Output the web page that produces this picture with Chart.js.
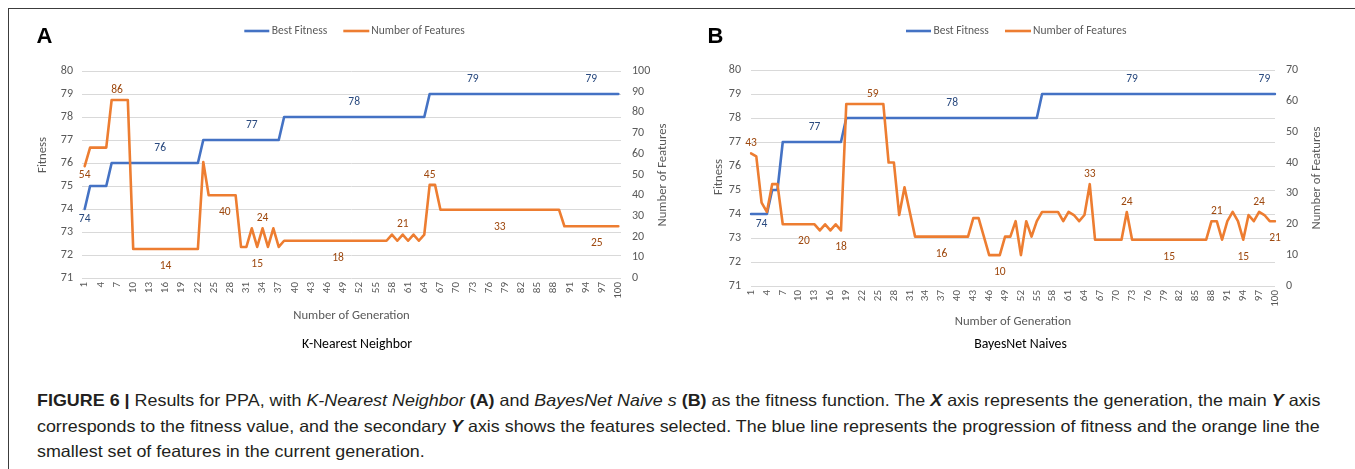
<!DOCTYPE html>
<html><head><meta charset="utf-8">
<script src="https://cdn.jsdelivr.net/npm/chart.js@4.4.1/dist/chart.umd.min.js"></script>
<style>
html,body{margin:0;padding:0;background:#fff;width:1355px;height:469px;overflow:hidden;position:relative}
#frame{position:absolute;left:8px;top:8px;width:1400px;height:500px;border-top:1.5px solid #3c3c3c;border-left:1.5px solid #3c3c3c;box-sizing:border-box}
#ca{position:absolute;left:0;top:0}
#cb{position:absolute;left:690px;top:0}
.cap{position:absolute;left:37px;white-space:nowrap;font-size:16.5px;line-height:20px;font-family:'Liberation Sans Narrow','Liberation Sans',Arial,sans-serif;color:#231f20;transform-origin:0 50%}
</style></head><body>
<div id="frame"></div>
<canvas id="ca" width="690" height="365"></canvas>
<canvas id="cb" width="665" height="365"></canvas>
<div class="cap" id="cap1" style="top:390px"><b>FIGURE 6 |</b> Results for PPA, with <i>K-Nearest Neighbor</i> <b>(A)</b> and <i>BayesNet Naive s</i> <b>(B)</b> as the fitness function. The <b><i>X</i></b> axis represents the generation, the main <b><i>Y</i></b> axis</div>
<div class="cap" id="cap2" style="top:416px">corresponds to the fitness value, and the secondary <b><i>Y</i></b> axis shows the features selected. The blue line represents the progression of fitness and the orange line the</div>
<div class="cap" id="cap3" style="top:441px">smallest set of features in the current generation.</div>
<script>
// ---------- DATA ----------
const generations = Array.from({length:100},(_,i)=>String(i+1));

const fitnessA = [
 74,75,75,75,75,76,76,76,76,76,
 76,76,76,76,76,76,76,76,76,76,
 76,76,77,77,77,77,77,77,77,77,
 77,77,77,77,77,77,77,78,78,78,
 78,78,78,78,78,78,78,78,78,78,
 78,78,78,78,78,78,78,78,78,78,
 78,78,78,78,79,79,79,79,79,79,
 79,79,79,79,79,79,79,79,79,79,
 79,79,79,79,79,79,79,79,79,79,
 79,79,79,79,79,79,79,79,79,79];
const featuresA = [
 54,63,63,63,63,86,86,86,86,14,
 14,14,14,14,14,14,14,14,14,14,
 14,14,56,40,40,40,40,40,40,15,
 15,24,15,24,15,24,15,18,18,18,
 18,18,18,18,18,18,18,18,18,18,
 18,18,18,18,18,18,18,21,18,21,
 18,21,18,21,45,45,33,33,33,33,
 33,33,33,33,33,33,33,33,33,33,
 33,33,33,33,33,33,33,33,33,25,
 25,25,25,25,25,25,25,25,25,25];
const fitnessB = [
 74,74,74,74,75,75,77,77,77,77,
 77,77,77,77,77,77,77,77,78,78,
 78,78,78,78,78,78,78,78,78,78,
 78,78,78,78,78,78,78,78,78,78,
 78,78,78,78,78,78,78,78,78,78,
 78,78,78,78,78,79,79,79,79,79,
 79,79,79,79,79,79,79,79,79,79,
 79,79,79,79,79,79,79,79,79,79,
 79,79,79,79,79,79,79,79,79,79,
 79,79,79,79,79,79,79,79,79,79];
const featuresB = [
 43,42,27,24,33,33,20,20,20,20,
 20,20,20,18,20,18,20,18,59,59,
 59,59,59,59,59,59,40,40,23,32,
 24,16,16,16,16,16,16,16,16,16,
 16,16,22,22,16,10,10,10,16,16,
 21,10,21,16,21,24,24,24,24,21,
 24,23,21,23,33,15,15,15,15,15,
 15,24,15,15,15,15,15,15,15,15,
 15,15,15,15,15,15,15,21,21,15,
 21,24,21,15,23,21,24,23,21,21];

const fitnessTicks = [71,72,73,74,75,76,77,78,79,80];
const featureTicksA = [0,10,20,30,40,50,60,70,80,90,100];
const featureTicksB = [0,10,20,30,40,50,60,70];

// data-label choices (which generations carry a value label, and on which side)
const labelGensFitA = [1,15,32,51,73,95];
const labelSideFitA = ['b','a','a','a','a','a'];
const labelGensFeatA = [1,7,16,27,33,34,48,60,65,78,96];
const labelSideFeatA = ['bn','a','b','b','b','a','b','a','a','b','b'];
const labelGensFitB = [3,13,39,73,98];
const labelSideFitB = ['b','a','a','a','a'];
const labelGensFeatB = [1,11,18,24,37,48,65,72,80,89,94,97,100];
const labelSideFeatB = ['a','b','b','a','b','b','a','a','b','a','b','a','b'];

// ---------- STYLE ----------
const BLUE='#4472C4', ORANGE='#ED7D31', GREY='#595959', GRID='#d9d9d9';
const FONT="Carlito, Lato, 'Open Sans', sans-serif";

const textPlugin = {
  id:'textPlugin',
  afterDraw(chart, args, opts){
    const ctx=chart.ctx;
    (opts.items||[]).forEach(it=>{
      ctx.save();
      if(it.line){
        ctx.strokeStyle=it.color; ctx.lineWidth=it.width; ctx.lineCap='butt';
        ctx.beginPath(); ctx.moveTo(it.x1,it.y); ctx.lineTo(it.x2,it.y); ctx.stroke();
      } else {
        ctx.translate(it.x,it.y); if(it.rot) ctx.rotate(it.rot);
        ctx.font=it.font; ctx.fillStyle=it.color;
        ctx.textAlign=it.align||'center'; ctx.textBaseline=it.baseline||'middle';
        ctx.fillText(it.text,0,0);
      }
      ctx.restore();
    });
  }
};

const labelPlugin = {
  id:'pointLabels',
  afterDatasetsDraw(chart){
    const ctx=chart.ctx;
    chart.data.datasets.forEach((ds,di)=>{
      if(!ds.labelGens) return;
      const meta=chart.getDatasetMeta(di);
      ctx.save();
      ctx.font='11.5px '+FONT; ctx.fillStyle=ds.labelColor;
      ctx.textAlign='center'; ctx.textBaseline='middle';
      ds.labelGens.forEach((g,k)=>{
        const idx=chart.data.labels.indexOf(String(g));
        const el=meta.data[idx];
        const dy=ds.labelOffset[ds.labelSides[k]];
        ctx.fillText(String(ds.data[idx]), el.x, el.y+dy);
      });
      ctx.restore();
    });
  }
};

function makeChart(id, c){
  return new Chart(document.getElementById(id), {
    type:'line',
    data:{
      labels:generations,
      datasets:[
        {label:'Number of Features', data:c.feat, yAxisID:'y1', borderColor:ORANGE, backgroundColor:ORANGE,
         borderWidth:2.6, pointRadius:0, tension:0, borderJoinStyle:'round', borderCapStyle:'round', order:0,
         labelGens:c.featGens, labelSides:c.featSides, labelColor:'#9E480E', labelOffset:{a:-10,b:17,bn:9}},
        {label:'Best Fitness', data:c.fit, yAxisID:'y', borderColor:BLUE, backgroundColor:BLUE,
         borderWidth:2.6, pointRadius:0, tension:0, borderJoinStyle:'round', borderCapStyle:'round', order:1,
         labelGens:c.fitGens, labelSides:c.fitSides, labelColor:'#2a4a7f', labelOffset:{a:-15,b:10}}
      ]
    },
    options:{
      responsive:false, animation:false, events:[],
      layout:{padding:{left:0,right:0,top:c.top,bottom:0}},
      plugins:{legend:{display:false}, tooltip:{enabled:false}, textPlugin:{items:c.texts}},
      scales:{
        x:{type:'category', offset:c.offset, grid:{display:false, drawTicks:false}, border:{display:false},
           ticks:{autoSkip:false, maxRotation:90, minRotation:90, padding:4, color:GREY, font:{family:FONT,size:11}},
           title:{display:true, text:'Number of Generation', color:GREY, font:{family:FONT,size:12.7}, padding:{top:0,bottom:c.xTitlePad}},
           afterFit:s=>{s.height=c.xH;}},
        y:{position:'left', min:fitnessTicks[0], max:fitnessTicks[fitnessTicks.length-1],
           afterBuildTicks:s=>{s.ticks=fitnessTicks.map(v=>({value:v}));},
           ticks:{padding:c.yPad, color:GREY, font:{family:FONT,size:12}},
           grid:{color:GRID, lineWidth:1, drawTicks:false}, border:{display:false},
           afterFit:s=>{s.width=c.yW;}},
        y1:{position:'right', min:c.rTicks[0], max:c.rTicks[c.rTicks.length-1],
           afterBuildTicks:s=>{s.ticks=c.rTicks.map(v=>({value:v}));},
           ticks:{padding:11, color:GREY, font:{family:FONT,size:12}},
           grid:{display:false, drawTicks:false}, border:{display:false},
           afterFit:s=>{s.width=c.y1W;}}
      }
    },
    plugins:[labelPlugin, textPlugin]
  });
}

// x tick callback: every third generation
Chart.defaults.scales.category.ticks.callback = function(v,i){ return i%3===0 ? this.getLabelForValue(v) : ''; };

function legendItems(x0){
  return [
    {line:true, x1:x0, x2:x0+25, y:31, color:BLUE, width:2.6},
    {text:'Best Fitness', x:x0+27.5, y:31, align:'left', font:'11.5px '+FONT, color:GREY},
    {line:true, x1:x0+99, x2:x0+125, y:31, color:ORANGE, width:2.6},
    {text:'Number of Features', x:x0+127, y:31, align:'left', font:'11.5px '+FONT, color:GREY}
  ];
}

makeChart('ca', {
  fit:fitnessA, feat:featuresA, rTicks:featureTicksA,
  fitGens:labelGensFitA, fitSides:labelSideFitA, featGens:labelGensFeatA, featSides:labelSideFeatA,
  offset:true, top:71, xH:87, yW:82, y1W:69, yPad:9, xTitlePad:42,
  texts:[
    {text:'A', x:36.5, y:42.7, align:'left', baseline:'alphabetic', font:"bold 22px 'Liberation Sans', Arial, sans-serif", color:'#000'},
    ...legendItems(244.3),
    {text:'Fitness', x:43, y:155, rot:-Math.PI/2, font:'12.7px '+FONT, color:GREY},
    {text:'Number of Features', x:663, y:175, rot:-Math.PI/2, font:'12.7px '+FONT, color:GREY},
    {text:'K-Nearest Neighbor', x:357, y:344.5, font:'13.8px '+FONT, color:'#000'}
  ]
});

makeChart('cb', {
  fit:fitnessB, feat:featuresB, rTicks:featureTicksB,
  fitGens:labelGensFitB, fitSides:labelSideFitB, featGens:labelGensFeatB, featSides:labelSideFeatB,
  offset:false, top:70, xH:79, yW:61, y1W:80, yPad:10, xTitlePad:35.5,
  texts:[
    {text:'B', x:17.5, y:42.7, align:'left', baseline:'alphabetic', font:"bold 22px 'Liberation Sans', Arial, sans-serif", color:'#000'},
    ...legendItems(216),
    {text:'Fitness', x:28.5, y:177, rot:-Math.PI/2, font:'12.7px '+FONT, color:GREY},
    {text:'Number of Features', x:627, y:178, rot:-Math.PI/2, font:'12.7px '+FONT, color:GREY},
    {text:'BayesNet Naives', x:330.5, y:345, font:'13.8px '+FONT, color:'#000'}
  ]
});

// fit caption lines to the reference widths
function fitLine(id, w){
  const el=document.getElementById(id);
  const s=w/el.scrollWidth; el.style.transform='scaleX('+s+')'; return s;
}
const s1=fitLine('cap1',1284);
const s2=fitLine('cap2',1283);
document.getElementById('cap3').style.transform='scaleX('+((s1+s2)/2)+')';
</script>
</body></html>
